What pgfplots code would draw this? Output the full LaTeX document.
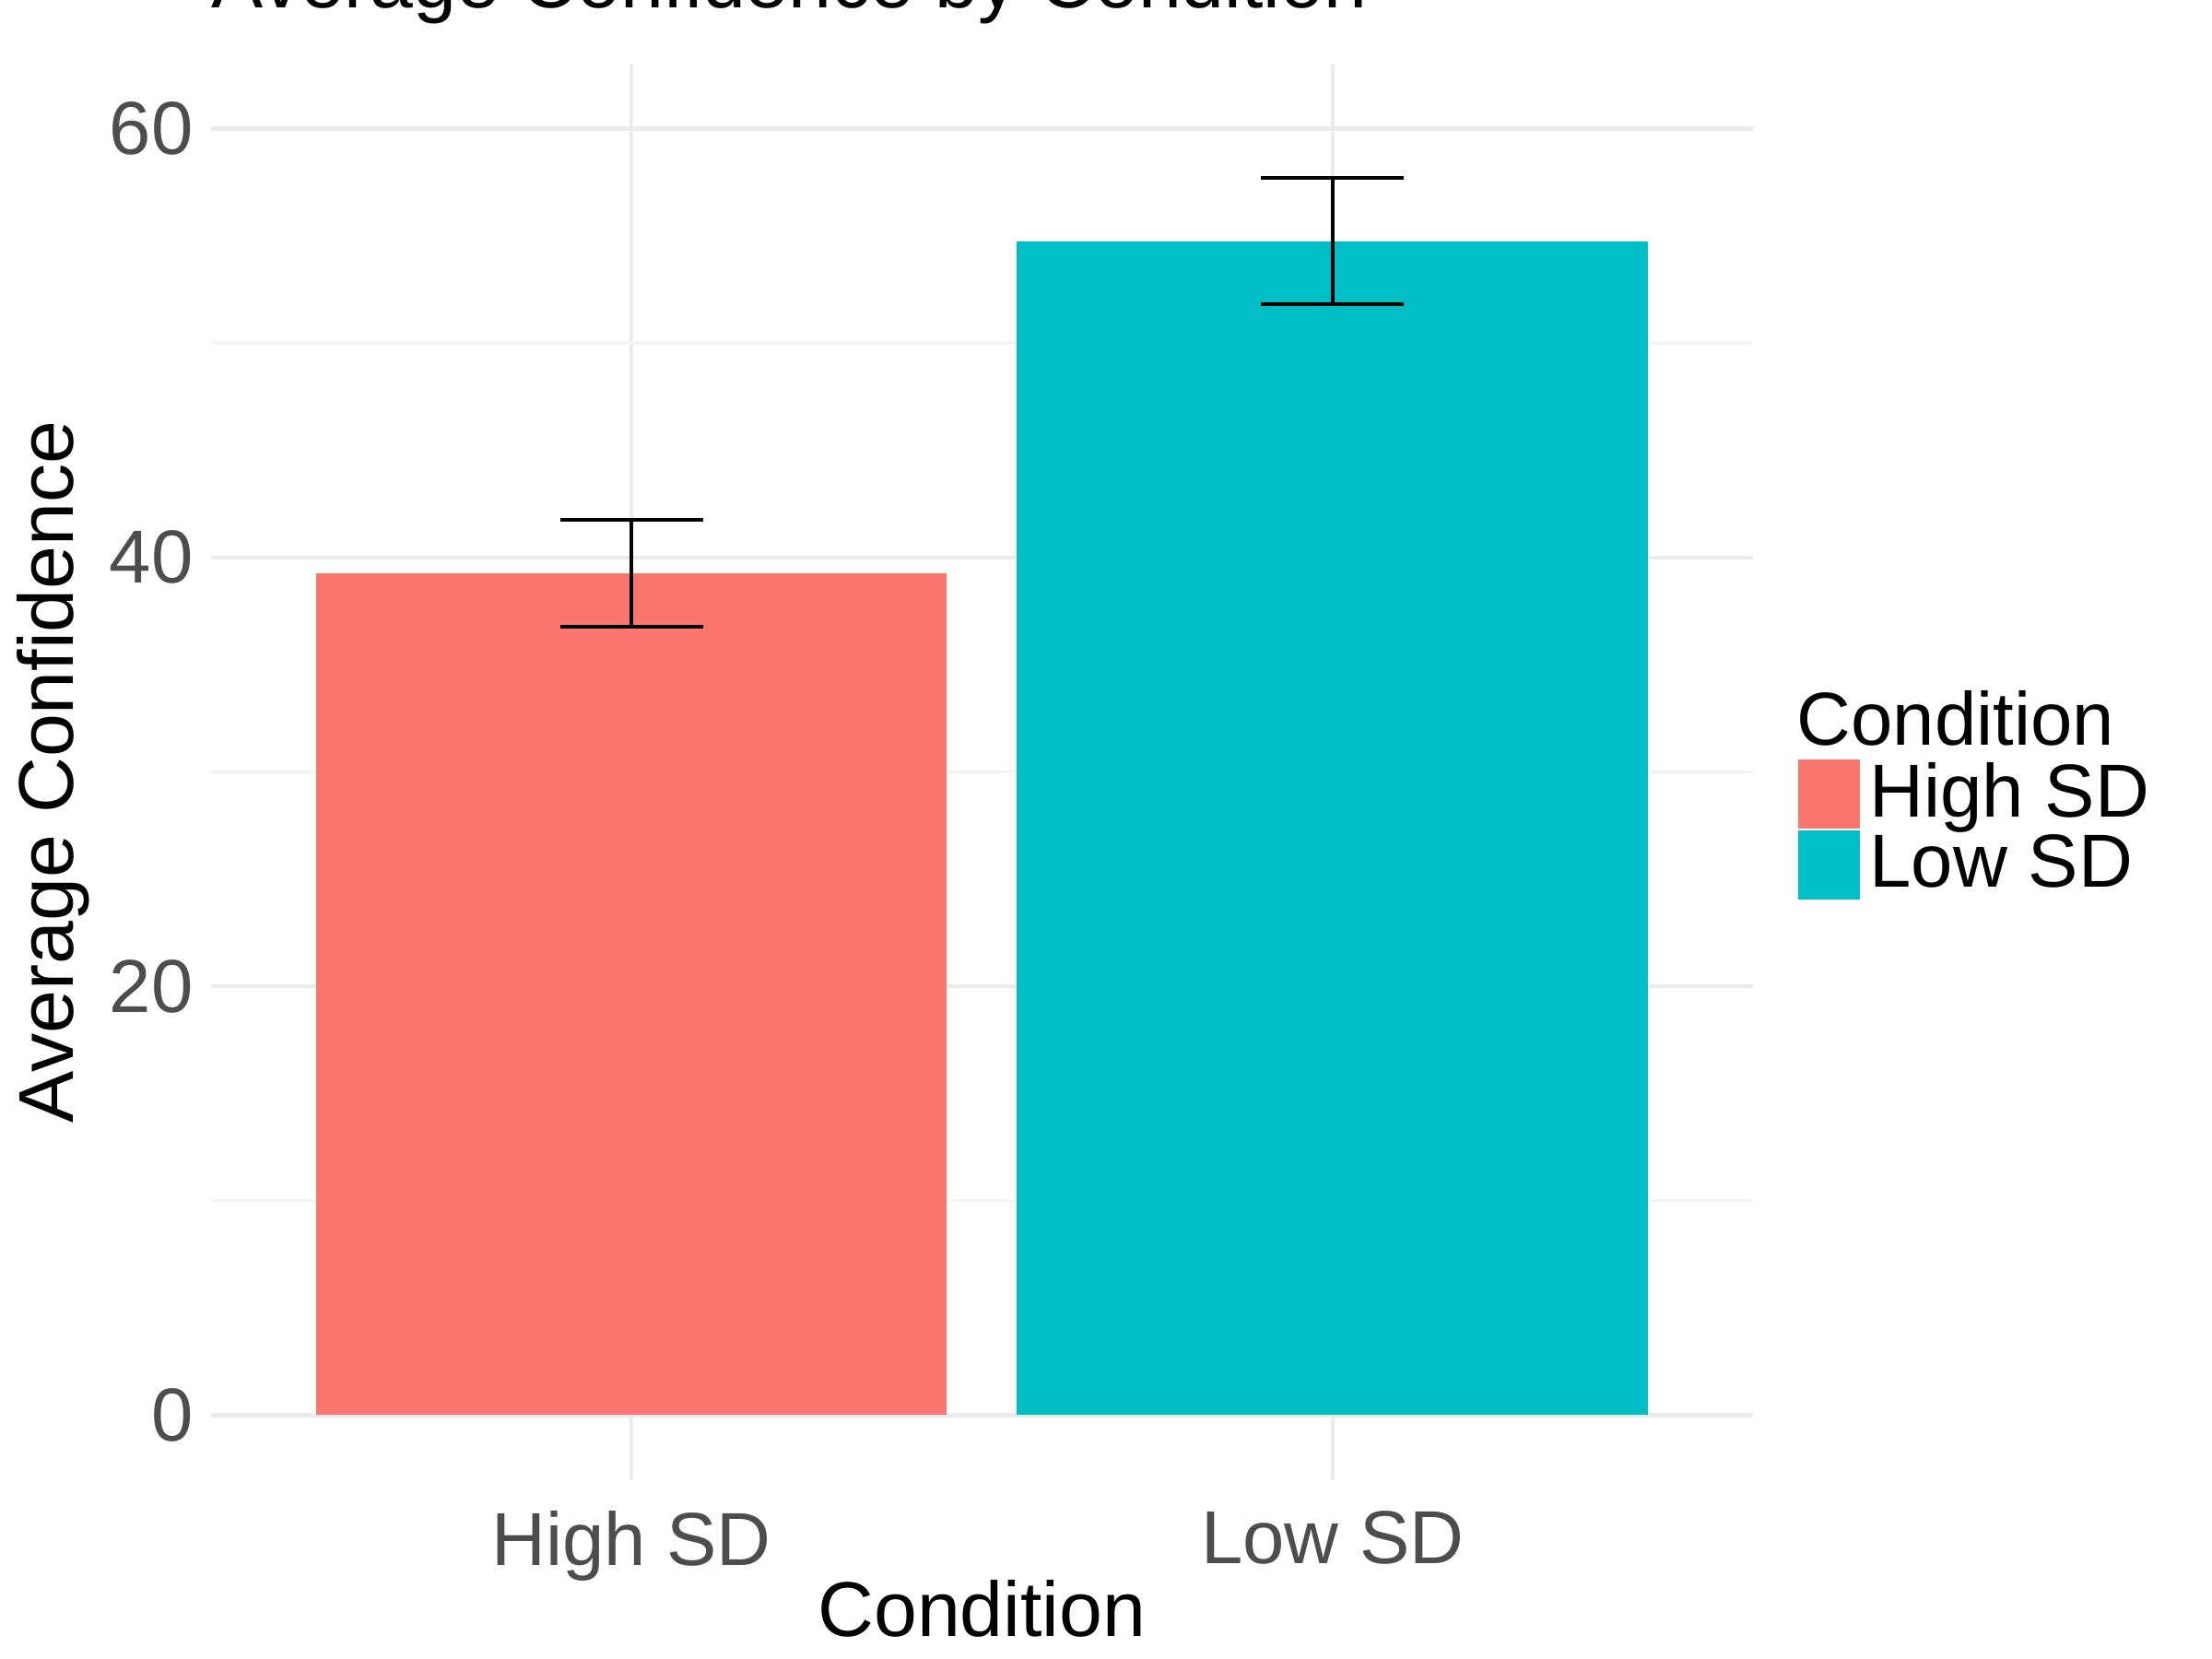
\documentclass[border=0pt]{standalone}
\usepackage{pgfplots}
\pgfplotsset{compat=1.18}
\usepackage{fontspec}
\setmainfont{Liberation Sans}
\definecolor{hi}{HTML}{F8766D}
\definecolor{lo}{HTML}{00BFC4}
\definecolor{tk}{HTML}{4D4D4D}
\definecolor{gmaj}{HTML}{EBEBEB}
\definecolor{gmin}{HTML}{F4F4F4}
\begin{document}
\begin{tikzpicture}
\useasboundingbox (-1.48,-1.26) rectangle (14.04,10.38);
\begin{axis}[
  at={(0,0)}, anchor=south west,
  scale only axis, width=10.82cm, height=9.93cm,
  xmin=-0.6, xmax=1.6, ymin=-3, ymax=63,
  axis line style={draw=none}, tick style={draw=none},
  xtick={0,1}, xticklabels={High SD,Low SD},
  ytick={0,20,40,60}, minor ytick={10,30,50},
  grid=both, major grid style={gmaj,line width=0.8pt}, minor grid style={gmin,line width=0.6pt},
  ticklabel style={font=\fontsize{15}{18}\selectfont, text=tk},
  /pgf/number format/assume math mode=true,
  xticklabel style={yshift=-0.1cm},
  xlabel={Condition}, ylabel={Average Confidence},
  label style={font=\fontsize{15.5}{18}\selectfont},
  xlabel style={yshift=0.25cm},
  ylabel style={yshift=-0.1cm},
  title={Average Confidence by Condition},
  title style={at={(0,1)}, anchor=south west, font=\fontsize{15.5}{18}\selectfont, inner xsep=0pt, yshift=-0.05cm},
]
\addplot[ybar, bar width=0.9, bar shift=0pt, fill=hi, draw=none,
  error bars/.cd, y dir=both, y explicit,
  error bar style={black, line width=0.7pt},
  error mark options={rotate=90, mark size=0.5cm, line width=0.7pt, black}]
  coordinates {(0,39.25) +- (0,2.5)};
\addplot[ybar, bar width=0.9, bar shift=0pt, fill=lo, draw=none,
  error bars/.cd, y dir=both, y explicit,
  error bar style={black, line width=0.7pt},
  error mark options={rotate=90, mark size=0.5cm, line width=0.7pt, black}]
  coordinates {(1,54.75) +- (0,2.95)};
\end{axis}
\begin{axis}[at={(0,0)}, anchor=south west, scale only axis, width=10.82cm, height=9.93cm,
  xmin=-0.6, xmax=1.6, ymin=-3, ymax=63, hide axis,
  legend style={at={(1.019,0.485)}, anchor=west, draw=none, fill=none, font=\fontsize{15}{18}\selectfont, row sep=-2pt},
  legend cell align=left,
  legend image code/.code={\fill[#1, draw=none] (0cm,-0.24cm) rectangle (0.43cm,0.24cm);}]
\addlegendimage{empty legend}
\addlegendentry{\hspace{-0.51cm}Condition\rule[-14pt]{0pt}{14pt}}
\addlegendimage{fill=hi}
\addlegendentry{High SD}
\addlegendimage{fill=lo}
\addlegendentry{Low SD}
\end{axis}
\end{tikzpicture}
\end{document}
